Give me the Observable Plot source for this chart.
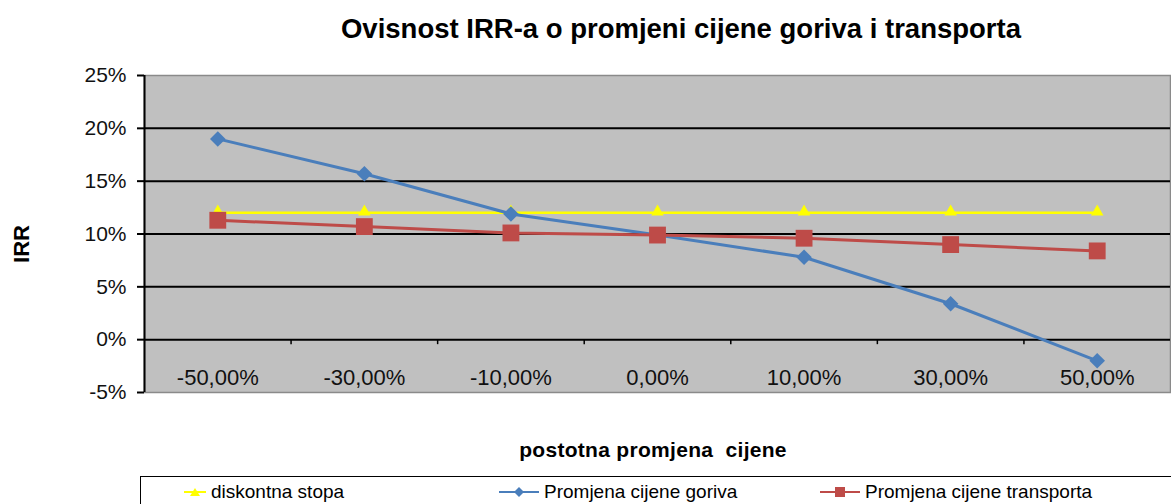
<!DOCTYPE html>
<html>
<head>
<meta charset="utf-8">
<script src="https://cdn.jsdelivr.net/npm/d3@7"></script>
<script src="https://cdn.jsdelivr.net/npm/@observablehq/plot@0.6"></script>
<style>
  html, body { margin: 0; padding: 0; background: #fff; }
  #wrap { position: relative; width: 1171px; height: 504px; overflow: hidden; font-family: "Liberation Sans", Arial, sans-serif; }
  #title { position: absolute; left: 0; width: 1362px; top: 13px; text-align: center; font-weight: bold; font-size: 27.5px; color: #000; white-space: nowrap; }
  #ylab { position: absolute; left: 22px; top: 244px; transform: translate(-50%, -50%) rotate(-90deg); font-weight: bold; font-size: 22px; color: #000; }
  #xlab { position: absolute; left: 0; width: 1306px; top: 438px; text-align: center; font-weight: bold; font-size: 21px; color: #000; letter-spacing: 0.3px; white-space: pre; }
  #legend { position: absolute; left: 140px; top: 476px; width: 1040px; height: 40px; border: 1px solid #000; box-sizing: border-box; background: #fff; }
  .li { position: absolute; top: 4px; font-size: 19px; color: #000; display: flex; align-items: center; letter-spacing: 0px; white-space: nowrap; }
  .li svg { margin-right: 5px; }
  #chart { position: absolute; left: 0; top: 0; }
</style>
</head>
<body>
<div id="wrap">
  <div id="chart"></div>
  <div id="title"></div>
  <div id="ylab"></div>
  <div id="xlab"></div>
  <div id="legend"></div>
</div>
<script>
const categories = ["-50,00%", "-30,00%", "-10,00%", "0,00%", "10,00%", "30,00%", "50,00%"];
const seriesNames = ["diskontna stopa", "Promjena cijene goriva", "Promjena cijene transporta"];
const diskontna = [12, 12, 12, 12, 12, 12, 12];
const gorivo = [19.0, 15.7, 11.9, 9.9, 7.8, 3.4, -2.0];
const transport = [11.3, 10.7, 10.1, 9.9, 9.6, 9.0, 8.4];
const yTicks = [-5, 0, 5, 10, 15, 20, 25];
const gridValues = [0, 5, 10, 15, 20];
const colors = ["#ffff00", "#4a7ebb", "#be4b48"];
const symbols = ["triangle2", "diamond2", "square"];
const titleText = "Ovisnost IRR-a o promjeni cijene goriva i transporta";
const xTitle = "postotna promjena  cijene";
const yTitle = "IRR";

const idx = categories.map((_, i) => i);
const boundaries = idx.slice(0, -1).map(i => i + 0.5);
const rows = (vals) => vals.map((v, i) => ({i, v}));

const plot = Plot.plot({
  width: 1171,
  height: 504,
  marginTop: 75,
  marginBottom: 112,
  marginLeft: 144,
  marginRight: 1,
  style: {fontFamily: "'Liberation Sans', Arial, sans-serif", background: "transparent"},
  x: {type: "linear", domain: [-0.5, categories.length - 0.5], axis: null},
  y: {type: "linear", domain: [-5, 25], axis: null},
  marks: [
    Plot.frame({fill: "#c0c0c0", stroke: "#8a8a8a", strokeWidth: 1.5}),
    Plot.ruleY(gridValues, {y: d => d, stroke: "#000", strokeWidth: 2}),
    Plot.ruleX([-0.5], {x: d => d, stroke: "#000", strokeWidth: 2}),
    Plot.ruleY(yTicks, {y: d => d, x1: -0.5, x2: -0.5, insetLeft: -7, stroke: "#000", strokeWidth: 2}),
    Plot.ruleX(boundaries, {x: d => d, y1: 0, y2: 0, insetBottom: -5, stroke: "#000", strokeWidth: 1.5}),
    Plot.text(yTicks, {y: d => d, frameAnchor: "left", dx: -18, text: d => d + "%", textAnchor: "end", lineAnchor: "middle", fontSize: 21, fill: "#111"}),
    Plot.text(categories, {x: (d, i) => i, frameAnchor: "bottom", lineAnchor: "middle", dy: -15, text: d => d, fontSize: 22, fill: "#111"}),
    Plot.line(rows(diskontna), {x: "i", y: "v", stroke: colors[0], strokeWidth: 2.5}),
    Plot.dot(rows(diskontna), {x: "i", y: "v", symbol: symbols[0], r: 6, fill: colors[0], dy: -1}),
    Plot.line(rows(gorivo), {x: "i", y: "v", stroke: colors[1], strokeWidth: 3}),
    Plot.dot(rows(gorivo), {x: "i", y: "v", symbol: symbols[1], r: 7, fill: colors[1]}),
    Plot.line(rows(transport), {x: "i", y: "v", stroke: colors[2], strokeWidth: 3}),
    Plot.dot(rows(transport), {x: "i", y: "v", symbol: symbols[2], r: 9.5, fill: colors[2]})
  ]
});
document.getElementById("chart").appendChild(plot);
document.getElementById("title").textContent = titleText;
document.getElementById("ylab").textContent = yTitle;
document.getElementById("xlab").textContent = xTitle;

const legendPos = [43, 358, 679];
const legendSymbols = [
  '<polygon points="10,1 15,9 5,9" />',
  '<polygon points="10,0 15,5 10,10 5,5" />',
  '<rect x="5" y="0" width="10" height="10" />'
];
const legend = document.getElementById("legend");
seriesNames.forEach((name, k) => {
  const el = document.createElement("div");
  el.className = "li";
  el.style.left = legendPos[k] + "px";
  const w = k === 0 ? 22 : 40;
  el.innerHTML = `<svg width="${w}" height="10" viewBox="0 0 ${w} 10">
    <line x1="0" x2="${w}" y1="5" y2="5" stroke="${colors[k]}" stroke-width="2"/>
    <g fill="${colors[k]}" transform="translate(${k === 0 ? 1 : 10},0)">${legendSymbols[k]}</g></svg>${name}`;
  legend.appendChild(el);
});
</script>
</body>
</html>
